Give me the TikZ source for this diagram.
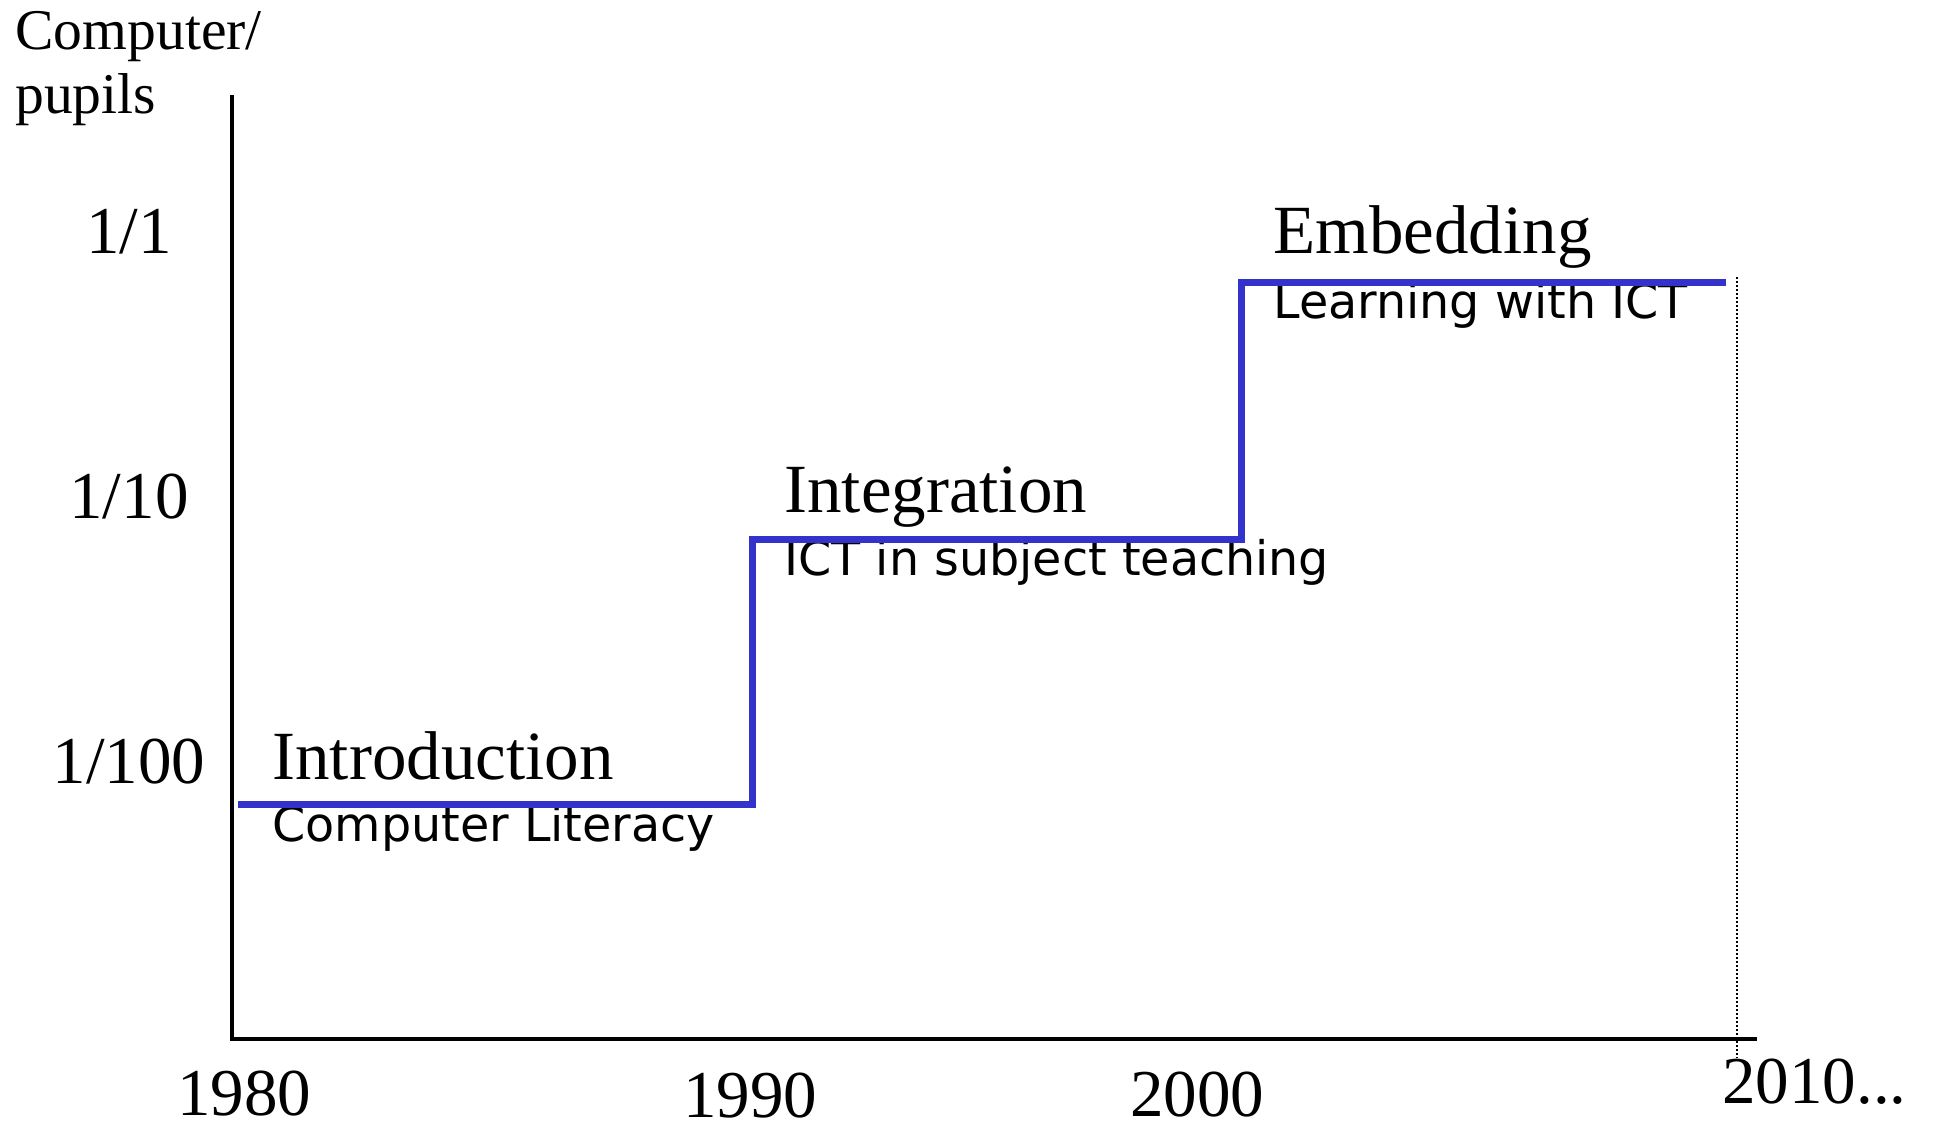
\documentclass[tikz,border=0pt]{standalone}
\usepackage{fontspec}
\setmainfont{Liberation Serif}
\newfontfamily\subfont{DejaVu Sans}
\usetikzlibrary{positioning}
\definecolor{stepblue}{RGB}{51,51,204}
\newcommand{\ticksize}{\fontsize{33.5}{40}\selectfont}
\newcommand{\stagesize}{\fontsize{34.5}{41}\selectfont}
\newcommand{\subsize}{\subfont\fontsize{23.8}{28}\selectfont}

\begin{document}
\begin{tikzpicture}[x=0.5pt,y=-0.5pt,
    every node/.style={inner sep=0pt},
    tick/.style={anchor=base,font=\ticksize},
    stage/.style={anchor=base west,font=\stagesize},
    sub/.style={anchor=base west,font=\subsize},
    axis/.style={line width=2pt},
    stepline/.style={line width=3.5pt,stepblue,line join=miter}]
        \useasboundingbox (0,0) rectangle (1933,1130);

        \coordinate (O) at (232,1039);
        \coordinate (Ytop) at (232,95);
        \coordinate (Xend) at (1757,1039);
        \coordinate (s1) at (238,804);
        \coordinate (s2) at (752,804);
        \coordinate (s3) at (752,539);
        \coordinate (s4) at (1241,539);
        \coordinate (s5) at (1241,282);
        \coordinate (s6) at (1726,282);
        \coordinate (dtop) at (1737,277);

        \node[anchor=base west,font=\fontsize{28.8}{32}\selectfont] (ylab) at (15,49) {Computer/};
        \node[anchor=base west,font=\fontsize{28.8}{32}\selectfont] (ylabb) at (15,113) {pupils};

        \node[tick] (y1) at (129,253) {1/1};
        \node[tick] (y10) at (129,518) {1/10};
        \node[tick] (y100) at (129,783) {1/100};

        \node[tick] (x1980) at (244,1115) {1980};
        \node[tick] (x1990) at (750,1117) {1990};
        \node[tick] (x2000) at (1197,1116) {2000};
        \node[anchor=base west,font=\ticksize] (x2010) at (1722,1103) {2010...};

        \node[stage] (intro) at (272,779) {Introduction};
        \node[sub] (introsub) at (272,841) {Computer Literacy};
        \node[stage] (integ) at (784,512) {Integration};
        \node[sub] (integsub) at (784,575) {ICT in subject teaching};
        \node[stage] (embed) at (1273,253) {Embedding};
        \node[sub] (embedsub) at (1273,318) {Learning with ICT};

        \draw[axis] (Ytop) -- (O) -- (Xend);
        \draw[stepline] (s1) -- (s2) -- (s3) -- (s4) -- (s5) -- (s6);
        \draw[line width=1pt,dash pattern=on 1pt off 1pt] (dtop) -- (dtop |- x2010.north);
      \end{tikzpicture}
\end{document}
